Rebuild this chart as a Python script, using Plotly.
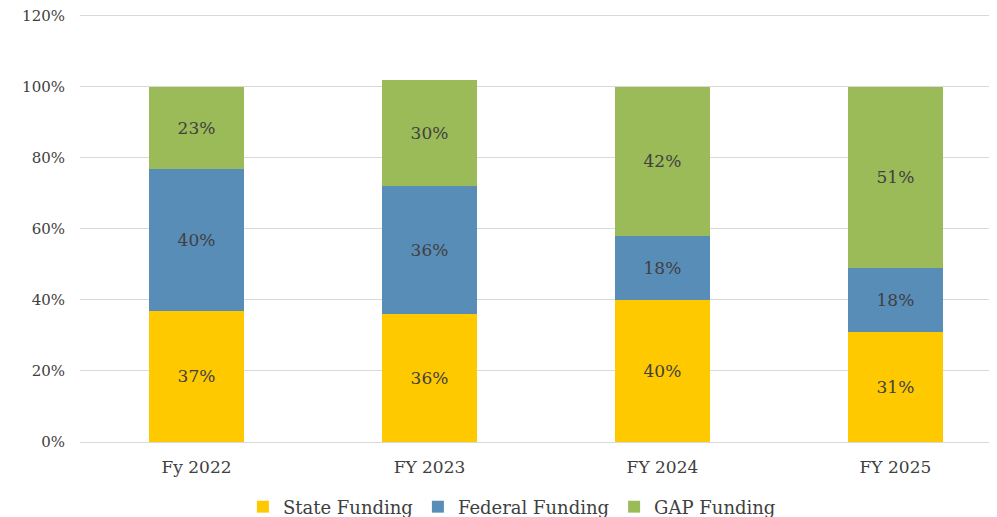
import plotly.graph_objects as go

categories = ["Fy 2022", "FY 2023", "FY 2024", "FY 2025"]
state = [37, 36, 40, 31]
federal = [40, 36, 18, 18]
gap = [23, 30, 42, 51]
series_names = ["State Funding", "Federal Funding", "GAP Funding"]
colors = ["#FFC900", "#588DB8", "#9BBB59"]

font_family = "DejaVu Serif, Liberation Serif, serif"
text_color = "#404040"

fig = go.Figure()
for name, vals, col in zip(series_names, [state, federal, gap], colors):
    fig.add_trace(go.Bar(
        x=categories, y=vals, name=name,
        marker=dict(color=col, line=dict(width=0)),
        text=[f"{v}%" for v in vals],
        textposition="inside", insidetextanchor="middle",
        textfont=dict(family=font_family, size=17, color=text_color),
        width=0.405,
    ))

# page body has an 8px default margin, so the figure is sized to fit the window
fig.update_layout(
    barmode="stack",
    width=989, height=509,
    margin=dict(l=72, r=0, t=4, b=75, autoexpand=False),
    paper_bgcolor="white", plot_bgcolor="white",
    font=dict(family=font_family, size=14, color=text_color),
    showlegend=True,
    legend=dict(orientation="h", x=0.471, xanchor="center", y=-0.151, yanchor="middle",
                font=dict(family=font_family, size=18, color=text_color),
                itemwidth=30, traceorder="normal"),
    uniformtext=dict(mode=False),
)
fig.update_xaxes(
    type="category", range=[-0.5, 3.436], automargin=False,
    showline=True, linecolor="#D9D9D9", linewidth=1,
    ticks="", tickfont=dict(family=font_family, size=17, color=text_color),
    ticklabelstandoff=10,
    showgrid=False,
)
fig.update_yaxes(
    range=[0, 121.1], dtick=20, ticksuffix="%", automargin=False,
    showgrid=True, gridcolor="#D9D9D9", gridwidth=1,
    zeroline=False, showline=False, ticks="",
    ticklabelstandoff=14, ticklabeloverflow="allow",
    tickfont=dict(family=font_family, size=15, color=text_color),
)

fig.write_html("out.html")
